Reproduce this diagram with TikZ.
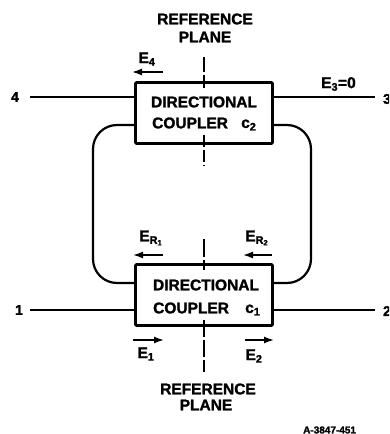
\documentclass[tikz,border=0pt]{standalone}
\usepackage{fontspec}
\setmainfont[BoldFeatures={FakeBold=1.6}]{Liberation Sans}
\usetikzlibrary{arrows.meta}
\tikzset{
  x=1pt,y=-1pt,
  wire/.style={line width=2.2pt},
  plane/.style={line width=1.8pt},
  boxnode/.style={draw,line width=2.8pt,rounded corners=1pt,minimum width=137pt,minimum height=61pt,inner sep=0pt},
  lbl/.style={inner sep=0pt,font=\bfseries\fontsize{15.5}{15.5}\selectfont},
  sym/.style={inner sep=0pt,font=\bfseries\fontsize{15.5}{15.5}\selectfont},
  wave/.style={line width=1.6pt,-{Latex[length=10pt,width=7pt]}},
  port/.style={inner sep=0pt,font=\bfseries\fontsize{14}{14}\selectfont}
}
\begin{document}
\begin{tikzpicture}
\useasboundingbox (0,0) rectangle (389,434);
\clip (0,0) rectangle (389,434);
\node[boxnode] (c2) at (204,113) {};
\node[boxnode] (c1) at (204,295) {};
\node[lbl] (c2a) at (204,102) {DIRECTIONAL};
\node[lbl,anchor=west] (c2b) at (152,123) {COUPLER};
\node[lbl,anchor=west] (c2c) at (241,125) {c\textsubscript{2}};
\node[lbl] (c1a) at (206,285) {DIRECTIONAL};
\node[lbl,anchor=west] (c1b) at (153,308) {COUPLER};
\node[lbl,anchor=west] (c1c) at (245,310) {c\textsubscript{1}};
\node[port] (p4) at (15,97) {4};
\node[port] (p3) at (387,99) {3};
\node[port] (p1) at (19,310) {1};
\node[port] (p2) at (387,311) {2};
\coordinate (p4e) at (30,97);
\coordinate (p3e) at (375,97);
\coordinate (p1e) at (30,310);
\coordinate (p2e) at (375,310);
\draw[wire] (p4e) -- (p4e -| c2.west);
\draw[wire] (c2.east |- p3e) -- (p3e);
\draw[wire] (p1e) -- (p1e -| c1.west);
\draw[wire] (c1.east |- p2e) -- (p2e);
\coordinate (l2) at (135,125);
\coordinate (r2) at (272,125);
\coordinate (l1) at (135,283);
\coordinate (r1) at (272,283);
\draw[wire,rounded corners=24pt] (l2) -- (93,125) -- (93,283) -- (l1);
\draw[wire,rounded corners=24pt] (r2) -- (311,125) -- (311,283) -- (r1);
\node[lbl] (rt1) at (205,19) {REFERENCE};
\node[lbl] (rt2) at (205,37) {PLANE};
\node[lbl] (rb1) at (208,389) {REFERENCE};
\node[lbl] (rb2) at (206,405) {PLANE};
\coordinate (pt1) at (204,57);
\coordinate (pt2) at (204,88);
\coordinate (pt3) at (204,135);
\coordinate (pt4) at (204,166);
\coordinate (pb1) at (204,239);
\coordinate (pb2) at (204,270);
\coordinate (pb3) at (204,320);
\coordinate (pb4) at (204,372);
\draw[plane,dash pattern=on 15pt off 3pt] (pt1) -- (pt2);
\draw[plane,dash pattern=on 12pt off 3pt] (pt3) -- (pt4);
\draw[plane,dash pattern=on 18pt off 3pt] (pb1) -- (pb2);
\draw[plane,dash pattern=on 17pt off 3pt] (pb3) -- (pb4);
\node[sym] (e4) at (147,59) {E\textsubscript{4}};
\node[sym,anchor=west] (e3) at (321,84) {E\textsubscript{3}=0};
\node[sym] (er1) at (151,238) {E\textsubscript{R\textsubscript{1}}};
\node[sym] (er2) at (257,238) {E\textsubscript{R\textsubscript{2}}};
\node[sym] (e1) at (146,354) {E\textsubscript{1}};
\node[sym] (e2) at (254,356) {E\textsubscript{2}};
\coordinate (a41) at (163,72); \coordinate (a42) at (132,72);
\coordinate (ar1a) at (163,255); \coordinate (ar1b) at (133,255);
\coordinate (ar2a) at (272,255); \coordinate (ar2b) at (243,255);
\coordinate (a1a) at (133,340); \coordinate (a1b) at (164,340);
\coordinate (a2a) at (245,340); \coordinate (a2b) at (274,340);
\draw[wave] (a41) -- (a42);
\draw[wave] (ar1a) -- (ar1b);
\draw[wave] (ar2a) -- (ar2b);
\draw[wave] (a1a) -- (a1b);
\draw[wave] (a2a) -- (a2b);
\node[inner sep=0pt,anchor=west,font=\bfseries\fontsize{10}{10}\selectfont] (ref) at (303,430) {A-3847-451};
\end{tikzpicture}
\end{document}
